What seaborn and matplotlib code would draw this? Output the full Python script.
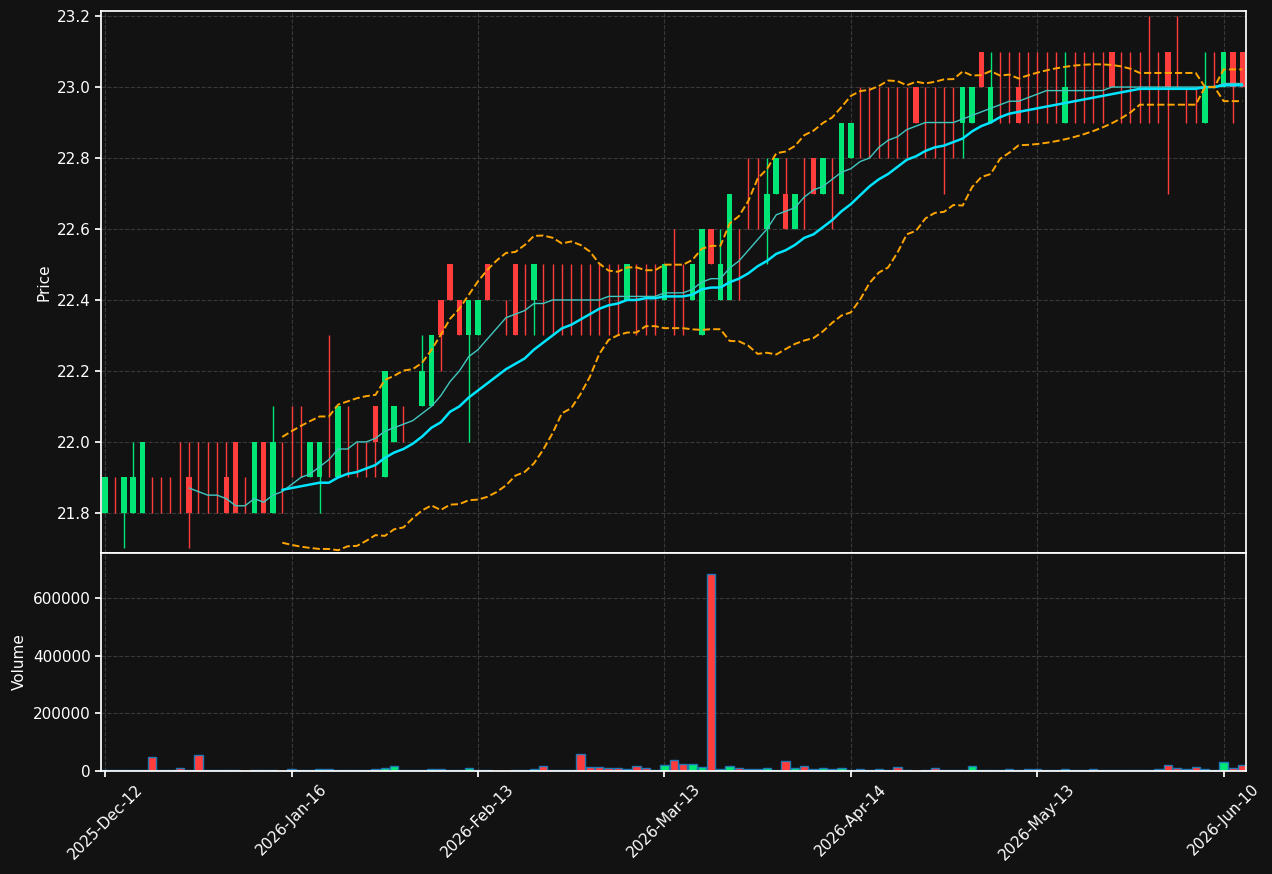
import numpy as np
import pandas as pd
import matplotlib
matplotlib.use("Agg")
import matplotlib.pyplot as plt
import seaborn as sns

opens = [21.8,21.9,21.8,21.8,21.8,21.8,21.8,21.9,21.8,21.9,21.8,21.8,21.9,21.9,22.0,21.8,21.8,22.0,21.8,21.9,
         22.0,22.0,21.9,21.9,22.0,21.9,22.0,22.0,22.0,22.1,21.9,22.0,22.1,22.1,22.1,22.1,22.4,22.5,22.4,22.3,
         22.3,22.5,22.4,22.4,22.5,22.4,22.4,22.4,22.4,22.4,22.4,22.4,22.4,22.4,22.4,22.4,22.4,22.4,22.4,22.4,
         22.4,22.4,22.4,22.4,22.3,22.6,22.4,22.4,22.6,22.7,22.8,22.6,22.7,22.7,22.6,22.8,22.8,22.7,22.8,22.7,
         22.8,22.9,22.9,22.9,22.9,22.9,22.9,23.0,22.9,22.9,22.9,22.9,22.9,22.9,23.1,22.9,23.0,23.0,23.0,23.0,
         23.0,23.0,23.0,22.9,23.0,23.0,23.0,23.0,23.1,23.0,23.0,23.0,23.0,23.0,23.1,23.0,23.0,23.0,22.9,23.0,
         23.0,23.1,23.1]
highs = [21.9,21.9,21.9,22.0,22.0,21.9,21.9,21.9,22.0,22.0,22.0,22.0,22.0,22.0,22.0,21.9,22.0,22.0,22.1,22.0,
         22.1,22.1,22.0,22.0,22.3,22.1,22.1,22.0,22.0,22.1,22.2,22.1,22.1,22.1,22.3,22.3,22.4,22.5,22.4,22.4,
         22.4,22.5,22.4,22.4,22.5,22.5,22.5,22.5,22.5,22.5,22.5,22.5,22.5,22.5,22.5,22.5,22.5,22.5,22.5,22.5,
         22.5,22.6,22.5,22.5,22.6,22.6,22.6,22.7,22.6,22.8,22.8,22.8,22.8,22.8,22.7,22.8,22.8,22.8,22.8,22.9,
         22.9,23.0,23.0,23.0,23.0,23.0,23.0,23.0,23.0,23.0,23.0,23.0,23.0,23.0,23.1,23.1,23.1,23.1,23.1,23.1,
         23.1,23.1,23.1,23.1,23.1,23.1,23.1,23.1,23.1,23.1,23.1,23.1,23.2,23.1,23.1,23.2,23.0,23.0,23.1,23.1,
         23.1,23.1,23.1]
lows = [21.8,21.8,21.7,21.8,21.8,21.8,21.8,21.8,21.8,21.7,21.8,21.8,21.8,21.8,21.8,21.8,21.8,21.8,21.8,21.8,
        21.9,21.9,21.9,21.8,21.9,21.9,21.9,21.9,21.9,21.9,21.9,22.0,22.0,22.1,22.1,22.1,22.2,22.4,22.3,22.0,
        22.3,22.4,22.4,22.3,22.3,22.3,22.3,22.3,22.3,22.3,22.3,22.3,22.3,22.3,22.3,22.3,22.4,22.3,22.3,22.3,
        22.4,22.3,22.3,22.4,22.3,22.5,22.4,22.4,22.4,22.6,22.6,22.5,22.7,22.6,22.6,22.6,22.7,22.7,22.6,22.7,
        22.8,22.8,22.8,22.8,22.8,22.8,22.8,22.9,22.8,22.8,22.7,22.8,22.8,22.9,23.0,22.9,22.9,22.9,22.9,22.9,
        22.9,22.9,22.9,22.9,22.9,22.9,22.9,22.9,23.0,22.9,22.9,22.9,22.9,22.9,22.7,23.0,22.9,22.9,22.9,23.0,
        23.0,22.9,23.0]
closes = [21.9,21.9,21.9,21.9,22.0,21.8,21.8,21.9,21.8,21.8,21.8,21.8,21.9,21.8,21.8,21.8,22.0,21.8,22.0,21.9,
          22.0,22.0,22.0,22.0,22.0,22.1,22.0,22.0,22.0,22.0,22.2,22.1,22.1,22.1,22.2,22.3,22.3,22.4,22.3,22.4,
          22.4,22.4,22.4,22.4,22.3,22.4,22.5,22.4,22.4,22.4,22.4,22.4,22.4,22.4,22.4,22.4,22.5,22.4,22.4,22.4,
          22.5,22.4,22.4,22.5,22.6,22.5,22.5,22.7,22.6,22.7,22.8,22.7,22.8,22.6,22.7,22.8,22.7,22.8,22.8,22.9,
          22.9,22.9,22.9,22.9,22.9,22.9,22.9,22.9,22.9,22.9,22.9,22.9,23.0,23.0,23.0,23.0,23.0,23.0,22.9,23.0,
          23.0,23.0,23.0,23.0,23.0,23.0,23.0,23.0,23.0,23.0,23.0,23.0,23.0,23.0,23.0,23.0,23.0,23.0,23.0,23.0,
          23.1,23.0,23.0]
volumes = [3000,2000,2000,4000,2000,50000,5000,4000,12000,3000,55000,5000,2000,4000,2000,1000,2000,3000,3000,1000,
           6000,2000,3000,6000,8000,2000,4000,2000,5000,8000,12000,18000,4000,2000,5000,8000,6000,5000,4000,9000,
           3000,2000,1000,1000,2000,5000,6000,18000,2000,2000,5000,58000,15000,15000,12000,12000,6000,18000,12000,5000,
           22000,40000,25000,25000,15000,685000,8000,18000,10000,8000,8000,12000,5000,35000,10000,18000,8000,12000,8000,12000,
           4000,8000,5000,8000,5000,15000,2000,1000,5000,12000,4000,2000,5000,18000,2000,5000,2000,6000,4000,6000,
           8000,2000,5000,6000,4000,2000,6000,2000,5000,3000,2000,3000,4000,8000,20000,12000,6000,15000,6000,3000,
           30000,12000,20000]
tick_pos = [0, 20, 40, 60, 80, 100, 120]
tick_labels = ["2025-Dec-12", "2026-Jan-16", "2026-Feb-13", "2026-Mar-13", "2026-Apr-14", "2026-May-13", "2026-Jun-10"]

n = len(closes)
volumes = (volumes + [3000] * n)[:n]
df = pd.DataFrame({"x": np.arange(n), "open": opens, "high": highs, "low": lows, "close": closes, "volume": volumes})
df["ma10"] = df["close"].rolling(10).mean()
df["ma20"] = df["close"].rolling(20).mean()
sd = df["close"].rolling(20).std()
df["bbu"] = df["ma20"] + 2 * sd
df["bbl"] = df["ma20"] - 2 * sd

UP, DN = "#00e676", "#ff3d3d"
df["up"] = df["close"] > df["open"]
colors = [UP if u else DN for u in df["up"]]

sns.set_theme(style="dark")
bg = "#121212"
plt.rcParams.update({"font.family": ["DejaVu Sans"], "text.color": "white", "axes.labelcolor": "white",
                     "xtick.color": "white", "ytick.color": "white"})
fig = plt.figure(figsize=(12.72, 8.74), dpi=100, facecolor=bg)
ax = fig.add_axes([0.0794, 0.3673, 0.9002, 0.620], facecolor=bg)
axv = fig.add_axes([0.0794, 0.1178, 0.9002, 0.2494], facecolor=bg, sharex=ax)

for a in (ax, axv):
    a.grid(True, color="#444444", linestyle="--", linewidth=0.8, alpha=0.8)
    for s in a.spines.values():
        s.set_color("white")
    a.tick_params(colors="white", labelsize=11, length=4, left=True, bottom=True)

ax.vlines(df["x"], df["low"], df["high"], colors=colors, linewidth=1)
body_h = (df["close"] - df["open"]).abs()
ax.bar(df["x"], body_h, bottom=np.minimum(df["open"], df["close"]), width=0.6, color=colors, linewidth=0)
sns.lineplot(data=df, x="x", y="ma10", ax=ax, color="#40c8c0", linewidth=1)
sns.lineplot(data=df, x="x", y="ma20", ax=ax, color="#00e5ff", linewidth=1.8)
sns.lineplot(data=df, x="x", y="bbu", ax=ax, color="#ffa500", linewidth=1.4, linestyle="--")
sns.lineplot(data=df, x="x", y="bbl", ax=ax, color="#ffa500", linewidth=1.4, linestyle="--")
ax.set_ylim(21.687, 23.214)
ax.set_xlim(-0.45, 122.4)
ax.set_ylabel("Price", fontsize=11)
ax.set_xlabel("")
ax.tick_params(labelbottom=False)

axv.bar(df["x"], df["volume"], width=0.9, color=colors, edgecolor="#1f77b4", linewidth=1.0)
axv.set_ylim(0, 756000)
axv.set_ylabel("Volume", fontsize=11)
axv.set_xticks(tick_pos)
axv.set_xticklabels(tick_labels, rotation=45, ha="center")
axv.set_xlabel("")

fig.savefig("out.png", dpi=100, facecolor=bg)
